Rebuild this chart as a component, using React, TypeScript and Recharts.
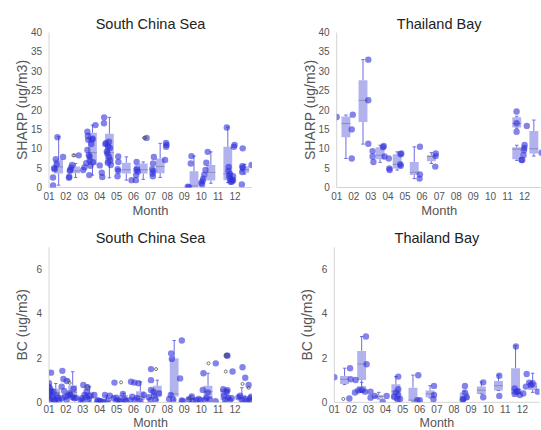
import React from 'react';
import { ComposedChart, Scatter, XAxis, YAxis, ReferenceArea, ReferenceLine, Label } from 'recharts';

const monthLabels = ['01', '02', '03', '04', '05', '06', '07', '08', '09', '10', '11', '12'];
const monthTicks = [1, 2, 3, 4, 5, 6, 7, 8, 9, 10, 11, 12];
const frameTicks = [1, 2, 3, 4, 5, 6, 7, 8, 9, 10, 11, 12, 13];

const sharpTicks = [0, 5, 10, 15, 20, 25, 30, 35, 40];
const sharpMinor = Array.from({ length: 41 }, (_, i) => i);
const bcTicks = [0, 2, 4, 6];
const bcMinor = [0, 0.5, 1, 1.5, 2, 2.5, 3, 3.5, 4, 4.5, 5, 5.5, 6, 6.5, 7];
const bcMajor = [0, 1, 2, 3, 4, 5, 6, 7];

// boxes: [month, min, q1, median, q3, max]
const scsSharpBoxes = [
  [1, 0.6, 3.6, 5.3, 7.2, 13.1],
  [2, 2.6, 3.7, 4.3, 5.4, 6.2],
  [3, 3.2, 5.8, 9.0, 14.1, 16.1],
  [4, 2.5, 6.0, 9.0, 13.9, 18.1],
  [5, 1.9, 3.6, 4.6, 6.4, 7.9],
  [6, 2.1, 3.6, 4.6, 6.2, 6.6],
  [7, 2.6, 3.7, 5.4, 7.5, 11.4],
  [9, 0, 0, 0.4, 4.2, 8.1],
  [10, 1.1, 1.8, 3.9, 5.8, 9.2],
  [11, 1.3, 1.9, 3.5, 10.5, 15.6],
  [12, 3.5, 3.8, 4.6, 5.5, 6.0],
];
const scsSharpPoints = [
  [1.24, 0.5], [1.24, 2.6], [1.34, 4.7], [1.45, 6.0], [1.4, 7.3], [1.5, 13.0], [1.83, 7.9], [1.3, 5.0],
  [2.18, 2.5], [2.2, 2.8], [2.23, 4.3], [2.25, 4.6], [2.36, 5.8], [2.32, 5.2], [2.76, 8.3],
  [3.02, 4.5], [3.1, 5.2], [3.2, 6.3], [3.27, 9.7], [3.27, 14.4], [3.3, 13.3], [3.32, 12.3], [3.35, 8.4],
  [3.55, 12.4], [3.5, 11.2], [3.4, 8.0], [3.4, 7.0], [3.38, 3.2], [3.75, 16.1], [3.6, 6.5], [3.45, 5.6], [3.58, 12.6],
  [4.0, 5.7], [4.12, 3.8], [4.15, 2.7], [4.26, 18.1], [4.25, 16.6], [4.33, 11.2], [4.38, 11.5], [4.42, 9.3],
  [4.5, 10.6], [4.55, 11.8], [4.55, 7.9], [4.48, 6.4], [4.6, 7.1], [4.65, 5.8], [4.45, 8.8], [4.6, 10.2],
  [5.09, 8.0], [5.1, 6.6], [5.06, 4.7], [5.1, 4.3], [5.05, 2.9], [5.88, 1.9],
  [6.18, 6.6], [6.2, 4.9], [6.17, 4.5], [6.15, 3.2], [6.14, 1.9], [6.25, 4.1], [6.77, 12.8],
  [7.1, 4.7], [7.12, 3.6], [7.14, 2.9], [7.15, 6.2], [7.2, 7.9], [7.17, 4.3], [7.86, 7.1], [7.92, 10.5], [7.92, 11.5], [7.95, 11.0],
  [9.2, 0.2], [9.27, 0.1], [9.38, 6.2], [9.42, 8.1],
  [10.0, 1.2], [10.08, 1.7], [10.12, 2.3], [10.18, 3.3], [10.25, 4.5], [10.3, 6.4], [10.38, 9.2], [10.05, 0.8],
  [11.51, 15.5], [11.62, 5.3], [11.6, 4.3], [11.64, 3.0], [11.7, 2.3], [11.73, 1.5], [11.8, 1.5], [11.88, 1.8],
  [11.88, 2.9], [11.93, 10.5], [11.97, 11.0], [11.7, 3.5], [11.85, 2.0],
  [12.4, 0.8], [12.42, 4.0], [12.45, 5.1], [12.43, 5.5], [12.45, 10.1], [12.98, 5.8],
];
const scsSharpOutliers = [[2.44, 8.3], [2.5, 8.3], [6.62, 12.8], [6.68, 12.8]];

const tbSharpBoxes = [
  [1, 7.5, 13.0, 16.5, 18.3, 18.7],
  [2, 11.2, 16.9, 22.5, 27.7, 33.0],
  [3, 6.5, 7.3, 8.3, 10.4, 10.9],
  [4, 4.5, 4.9, 6.0, 8.6, 9.2],
  [5, 2.3, 3.2, 3.9, 6.6, 10.5],
  [6, 6.2, 6.8, 8.0, 8.3, 9.0],
  [11, 15.3, 15.5, 16.5, 18.1, 18.4],
  [11, 7.0, 7.3, 9.9, 10.4, 10.9],
  [12, 8.1, 8.8, 10.0, 14.6, 17.4],
];
const tbSharpPoints = [
  [1.0, 18.2], [1.88, 7.5], [1.88, 15.0], [1.94, 18.8],
  [2.85, 33.0], [2.85, 22.5], [2.85, 11.3],
  [3.1, 8.0], [3.1, 9.4], [3.15, 6.6], [3.72, 10.4], [3.75, 10.7], [3.8, 8.0],
  [4.05, 7.5], [4.08, 4.9], [4.1, 4.5], [4.72, 6.0], [4.75, 5.6], [4.74, 8.6], [4.78, 8.8],
  [5.87, 10.5], [5.87, 3.4], [5.85, 2.3],
  [6.79, 8.1], [6.8, 8.8], [6.77, 5.4],
  [11.53, 19.6], [11.53, 16.6], [11.53, 14.4], [11.82, 7.1], [11.86, 7.1], [11.94, 8.4], [11.96, 9.6], [12.0, 11.0], [11.98, 10.2],
  [12.13, 15.9], [12.99, 9.0],
];
const tbSharpOutliers: number[][] = [];

const scsBcBoxes = [
  [1, 0.1, 0.3, 0.45, 0.62, 0.85],
  [2, 0.15, 0.23, 0.44, 0.77, 1.38],
  [3, 0.05, 0.15, 0.25, 0.45, 0.7],
  [4, 0, 0.02, 0.05, 0.08, 0.3],
  [5, 0.02, 0.08, 0.15, 0.33, 0.4],
  [6, 0.05, 0.1, 0.25, 0.5, 0.92],
  [7, 0.1, 0.26, 0.51, 0.75, 1.0],
  [8, 0.1, 0.26, 0.38, 1.99, 2.79],
  [9, 0.02, 0.1, 0.15, 0.25, 0.3],
  [10, 0.1, 0.15, 0.48, 0.75, 1.31],
  [11, 0.05, 0.1, 0.5, 0.59, 0.6],
  [12, 0.05, 0.14, 0.2, 0.33, 0.66],
];
const scsBcPoints = [
  [1.12, 1.34], [1.0, 0.86], [1.0, 0.7], [1.06, 0.63], [1.26, 0.48], [1.0, 0.33], [1.16, 0.18], [1.02, 0.1],
  [1.36, 0.1], [1.55, 0.18], [1.6, 0.08], [1.1, 0.5], [1.2, 0.25], [1.05, 0.45], [1.3, 0.05], [1.45, 0.3],
  [1.79, 1.42], [1.85, 1.05], [2.05, 0.96], [1.75, 0.71], [1.9, 0.51], [1.95, 0.25], [2.26, 0.33], [2.4, 0.23],
  [2.5, 0.18], [1.76, 0.18], [2.05, 0.1], [2.1, 0.3], [2.2, 0.4], [2.45, 0.6], [2.6, 0.2],
  [3.03, 0.78], [3.27, 0.68], [3.22, 0.48], [3.1, 0.33], [2.95, 0.18], [3.35, 0.13], [2.87, 0.1], [3.2, 0.23],
  [3.68, 0.33], [3.88, 0.1], [3.0, 0.05], [3.4, 0.3],
  [4.31, 0.33], [4.08, 0.05], [4.0, 0.05], [3.85, 0.04], [4.45, 0.08], [4.6, 0.3], [4.2, 0.02],
  [4.87, 0.89], [4.82, 0.18], [4.98, 0.21], [5.1, 0.1], [5.37, 0.38], [5.45, 0.13], [5.55, 0.07], [5.0, 0.05], [5.2, 0.02],
  [5.85, 0.93], [6.05, 0.89], [6.29, 0.86], [5.92, 0.25], [6.08, 0.1], [5.8, 0.1], [6.6, 0.33], [6.2, 0.2], [6.4, 0.05],
  [7.03, 1.5], [7.03, 1.0], [7.03, 0.56], [7.17, 0.48], [6.9, 0.23], [7.0, 0.1], [7.3, 0.13], [7.5, 0.4], [7.2, 0.3],
  [8.22, 2.21], [8.26, 1.96], [8.85, 2.79], [8.75, 1.08], [8.2, 0.33], [8.1, 0.15], [8.85, 0.08], [8.35, 0.13], [8.9, 0.05],
  [9.44, 0.26], [9.25, 0.13], [9.7, 0.1], [9.85, 0.15], [9.5, 0.05],
  [10.13, 1.31], [10.86, 1.76], [10.09, 0.56], [10.39, 0.45], [10.2, 0.1], [9.95, 0.1], [10.5, 0.13], [10.3, 0.2], [10.85, 0.05],
  [11.51, 2.11], [11.55, 2.11], [11.85, 1.39], [11.3, 0.59], [11.5, 0.48], [11.6, 0.2], [11.7, 0.1], [11.4, 0.1],
  [11.8, 0.18], [11.35, 0.3], [11.55, 0.55],
  [12.44, 1.58], [12.6, 1.11], [12.8, 0.78], [12.2, 0.23], [12.4, 0.1], [12.6, 0.15], [12.9, 0.18], [12.85, 0.1],
  [12.95, 0.25], [12.3, 0.3], [12.7, 0.05],
];
const scsBcOutliers = [
  [2.15, 0.98], [2.22, 0.88], [3.27, 0.72], [5.26, 0.9], [7.33, 1.5], [9.3, 0.17],
  [10.43, 1.76], [11.45, 1.39], [11.45, 2.11], [12.44, 0.83], [12.8, 0.65],
];

const tbBcBoxes = [
  [1, 0.8, 0.83, 1.04, 1.19, 1.54],
  [2, 0.5, 1.01, 1.73, 2.32, 2.97],
  [2, 0.44, 0.44, 0.55, 0.74, 0.9],
  [3, 0.15, 0.18, 0.26, 0.33, 0.45],
  [4, 0.1, 0.14, 0.48, 0.81, 1.16],
  [5, 0.03, 0.06, 0.1, 0.66, 1.23],
  [6, 0.2, 0.23, 0.38, 0.53, 0.75],
  [8, 0.08, 0.1, 0.25, 0.44, 0.5],
  [9, 0.38, 0.38, 0.55, 0.71, 0.92],
  [10, 0.53, 0.53, 0.75, 0.96, 1.23],
  [11, 0.38, 0.38, 0.55, 1.54, 2.55],
  [12, 0.45, 0.56, 0.71, 0.89, 1.31],
];
const tbBcPoints = [
  [1.0, 1.13], [1.92, 1.54], [1.88, 0.17], [1.96, 1.04], [2.25, 1.01],
  [2.85, 2.97], [2.89, 1.72], [2.21, 0.44], [2.4, 0.53], [2.6, 0.56], [3.12, 0.48], [2.8, 0.48],
  [3.12, 0.21], [3.37, 0.29], [3.83, 0.03], [4.06, 0.29],
  [4.74, 1.16], [4.74, 0.59], [4.74, 0.33], [4.5, 0.25], [4.7, 0.14], [4.85, 0.15], [4.6, 0.45],
  [5.91, 1.22], [5.85, 0.09], [6.0, 0.09],
  [6.83, 0.74], [6.83, 0.33], [6.8, 0.14],
  [8.64, 0.74], [8.64, 0.44], [8.55, 0.15], [8.75, 0.23], [8.5, 0.1],
  [9.71, 0.9], [9.71, 0.23],
  [10.65, 1.2], [10.65, 0.29],
  [11.62, 2.52], [11.55, 0.63], [11.65, 0.48], [11.55, 0.38], [11.85, 0.33], [12.05, 0.4], [11.75, 0.5],
  [12.25, 1.28], [12.4, 0.89], [12.2, 0.71], [12.6, 0.86], [12.5, 0.78], [12.9, 0.48],
];
const tbBcOutliers = [[1.53, 0.15]];

const FRAME = '#d4d4d4';
const TICK = '#8a8a8a';
const MINOR = '#c0c0c0';
const LABEL = '#555';

type PanelProps = {
  left: number; top: number; width: number; height: number;
  plot: { l: number; t: number; r: number; b: number };
  title: string; yLabel: string; yMax: number;
  yTicks: number[]; yMinor: number[]; yMajor: number[];
  boxes: number[][]; points: number[][]; outliers: number[][]; boxOffset: number;
  monthDy: number; monthSize: number; tickGap: number;
};

const Dot = (props: any) => (
  <circle cx={props.cx} cy={props.cy} r={3.2} fill="#3030dc" fillOpacity={0.6} />
);
const Ring = (props: any) => (
  <circle cx={props.cx} cy={props.cy} r={1.5} fill="none" stroke="#555" strokeWidth={0.8} />
);

function Panel(p: PanelProps) {
  const Yw = 40;
  const Xh = 20;
  const margin = {
    top: p.plot.t,
    left: p.plot.l - Yw,
    right: p.width - p.plot.r,
    bottom: p.height - p.plot.b - Xh,
  };
  const pts = p.points.map(([x, y]) => ({ x, y }));
  const outs = p.outliers.map(([x, y]) => ({ x, y }));
  const hw = 0.26;
  const cap = 0.1;
  const boxEls: any[] = [];
  p.boxes.forEach(([m, lo, q1, med, q3, hi], i) => {
    const c = m + p.boxOffset;
    boxEls.push(
      <ReferenceLine key={'wu' + i} segment={[{ x: c, y: q3 }, { x: c, y: hi }]} stroke="#6d6de2" strokeWidth={1} ifOverflow="hidden" />,
      <ReferenceLine key={'wl' + i} segment={[{ x: c, y: lo }, { x: c, y: q1 }]} stroke="#6d6de2" strokeWidth={1} ifOverflow="hidden" />,
      <ReferenceLine key={'cu' + i} segment={[{ x: c - cap, y: hi }, { x: c + cap, y: hi }]} stroke="#6d6de2" strokeWidth={1} ifOverflow="hidden" />,
      <ReferenceLine key={'cl' + i} segment={[{ x: c - cap, y: lo }, { x: c + cap, y: lo }]} stroke="#6d6de2" strokeWidth={1} ifOverflow="hidden" />,
      <ReferenceArea key={'b' + i} x1={c - hw} x2={c + hw} y1={q1} y2={q3} fill="#3434d2" fillOpacity={0.38} stroke="none" ifOverflow="hidden" />,
      <ReferenceLine key={'m' + i} segment={[{ x: c - hw, y: med }, { x: c + hw, y: med }]} stroke="#8c8cb4" strokeWidth={1} ifOverflow="hidden" />
    );
  });
  const plotW = p.plot.r - p.plot.l;
  const mirrorY = (id: string, ticks: number[], size: number, color: string, side: 'left' | 'right', line: boolean) => (
    <YAxis
      yAxisId={id} type="number" domain={[0, p.yMax]} allowDataOverflow ticks={ticks} interval={0}
      mirror orientation={side} width={0} tick={false} tickSize={size} tickLine={{ stroke: color }}
      axisLine={line ? { stroke: FRAME } : false}
    />
  );
  return (
    <div style={{ position: 'absolute', left: p.left, top: p.top, width: p.width, height: p.height }}>
      <div
        style={{
          position: 'absolute', left: p.plot.l, width: plotW, top: p.plot.t - 17,
          textAlign: 'center', fontSize: 14.5, lineHeight: '17px', color: '#222',
        }}
      >
        {p.title}
      </div>
      <ComposedChart width={p.width} height={p.height} margin={margin}>
        <XAxis
          xAxisId={0} type="number" dataKey="x" domain={[1, 13]} allowDataOverflow
          ticks={monthTicks} interval={0} tickFormatter={(v: number) => monthLabels[v - 1]}
          tickLine={false} tickSize={3} tickMargin={p.tickGap} height={Xh}
          axisLine={{ stroke: FRAME }} tick={{ fontSize: 10, fill: LABEL }}
        >
          <Label
            content={(lp: any) => {
              const vb = lp.viewBox || {};
              return (
                <text x={vb.x + vb.width / 2} y={vb.y + p.monthDy} textAnchor="middle" fontSize={p.monthSize} fill={LABEL}>
                  Month
                </text>
              );
            }}
          />
        </XAxis>
        <XAxis
          xAxisId="bt" type="number" domain={[1, 13]} allowDataOverflow ticks={frameTicks} interval={0}
          mirror orientation="bottom" height={0} tick={false} tickSize={4} tickLine={{ stroke: TICK }} axisLine={false}
        />
        <XAxis
          xAxisId="tp" type="number" domain={[1, 13]} allowDataOverflow ticks={frameTicks} interval={0}
          mirror orientation="top" height={0} tick={false} tickSize={4} tickLine={{ stroke: TICK }} axisLine={{ stroke: FRAME }}
        />
        <YAxis
          yAxisId={0} type="number" dataKey="y" domain={[0, p.yMax]} allowDataOverflow
          ticks={p.yTicks} interval={0} tickLine={false} tickSize={4} tickMargin={3} width={Yw}
          axisLine={{ stroke: FRAME }} tick={{ fontSize: 10, fill: LABEL }}
        >
          <Label
            content={(lp: any) => {
              const vb = lp.viewBox || {};
              const cx = vb.x + vb.width - 27;
              const cy = vb.y + vb.height / 2;
              return (
                <text x={cx} y={cy} transform={`rotate(-90, ${cx}, ${cy})`} textAnchor="middle" dominantBaseline="central" fontSize={14} fill={LABEL}>
                  {p.yLabel}
                </text>
              );
            }}
          />
        </YAxis>
        {mirrorY('lmin', p.yMinor, 2, MINOR, 'left', false)}
        {mirrorY('lmaj', p.yMajor, 4, TICK, 'left', false)}
        {mirrorY('rmin', p.yMinor, 2, MINOR, 'right', true)}
        {mirrorY('rmaj', p.yMajor, 4, TICK, 'right', false)}
        {boxEls}
        <Scatter data={pts} shape={Dot} isAnimationActive={false} />
        <Scatter data={outs} shape={Ring} isAnimationActive={false} />
      </ComposedChart>
    </div>
  );
}

export default function App() {
  return (
    <div
      style={{
        position: 'absolute', left: 0, top: 0, width: 541, height: 430, overflow: 'hidden',
        background: '#fff', fontFamily: '"Liberation Sans", Arial, sans-serif',
      }}
    >
      <Panel
        left={0} top={0} width={270} height={222}
        plot={{ l: 49, t: 32.5, r: 252, b: 187.5 }}
        title="South China Sea" yLabel="SHARP (ug/m3)" yMax={40}
        yTicks={sharpTicks} yMinor={sharpMinor} yMajor={sharpTicks}
        boxes={scsSharpBoxes} points={scsSharpPoints} outliers={scsSharpOutliers} boxOffset={0.57}
        monthDy={27.5} monthSize={13} tickGap={2}
      />
      <Panel
        left={270} top={0} width={275} height={222}
        plot={{ l: 66.7, t: 32.5, r: 271.7, b: 187.5 }}
        title="Thailand Bay" yLabel="SHARP (ug/m3)" yMax={40}
        yTicks={sharpTicks} yMinor={sharpMinor} yMajor={sharpTicks}
        boxes={tbSharpBoxes} points={tbSharpPoints} outliers={tbSharpOutliers} boxOffset={0.54}
        monthDy={27.5} monthSize={13} tickGap={2}
      />
      <Panel
        left={0} top={215} width={270} height={215}
        plot={{ l: 49, t: 32.3, r: 252, b: 187.3 }}
        title="South China Sea" yLabel="BC (ug/m3)" yMax={7}
        yTicks={bcTicks} yMinor={bcMinor} yMajor={bcMajor}
        boxes={scsBcBoxes} points={scsBcPoints} outliers={scsBcOutliers} boxOffset={0.4}
        monthDy={25} monthSize={12.5} tickGap={1}
      />
      <Panel
        left={270} top={215} width={271} height={215}
        plot={{ l: 64.3, t: 32.3, r: 269.5, b: 187.3 }}
        title="Thailand Bay" yLabel="BC (ug/m3)" yMax={7}
        yTicks={bcTicks} yMinor={bcMinor} yMajor={bcMajor}
        boxes={tbBcBoxes} points={tbBcPoints} outliers={tbBcOutliers} boxOffset={0.6}
        monthDy={25} monthSize={12.5} tickGap={1}
      />
    </div>
  );
}
